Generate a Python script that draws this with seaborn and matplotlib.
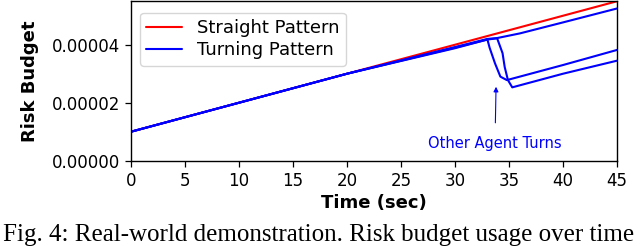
import numpy as np
import pandas as pd
import matplotlib
matplotlib.use("Agg")
import matplotlib.pyplot as plt
import seaborn as sns
from matplotlib.ticker import FormatStrFormatter

# ---------- data ----------
STRAIGHT_T = [0, 10, 20, 30, 40, 45]
STRAIGHT_R = [1.0e-5, 2.0e-5, 3.0e-5, 4.0e-5, 5.0e-5, 5.5e-5]

# three turning-pattern runs
TURN_A_T = [0, 10, 20, 25, 30, 33.0, 33.2, 33.7, 34.2, 34.8, 40, 45]
TURN_A_R = [1.0e-5, 2.0e-5, 3.0e-5, 3.45e-5, 3.9e-5, 4.18e-5, 3.9e-5, 3.36e-5, 2.9e-5, 2.78e-5, 3.3e-5, 3.82e-5]

TURN_B_T = [0, 10, 20, 25, 30, 33.0, 33.9, 34.4, 34.6, 34.9, 35.3, 40, 45]
TURN_B_R = [1.0e-5, 2.0e-5, 3.0e-5, 3.44e-5, 3.88e-5, 4.18e-5, 4.22e-5, 3.71e-5, 3.23e-5, 2.78e-5, 2.53e-5, 3.0e-5, 3.45e-5]

TURN_C_T = [0, 10, 20, 25, 30, 33.0, 33.9, 36, 40, 45]
TURN_C_R = [1.0e-5, 2.0e-5, 3.0e-5, 3.46e-5, 3.92e-5, 4.2e-5, 4.23e-5, 4.39e-5, 4.77e-5, 5.25e-5]

LABELS = ["Straight Pattern", "Turning Pattern"]
X_TICKS = [0, 5, 10, 15, 20, 25, 30, 35, 40, 45]
Y_TICKS = [0, 2e-5, 4e-5]
CAPTION = "Fig. 4: Real-world demonstration. Risk budget usage over time"
# ----------------------------------------------

rows = []
for t, r in zip(STRAIGHT_T, STRAIGHT_R):
    rows.append((LABELS[0], "s", t, r))
for run, (ts, rs) in {"a": (TURN_A_T, TURN_A_R), "b": (TURN_B_T, TURN_B_R),
                      "c": (TURN_C_T, TURN_C_R)}.items():
    for t, r in zip(ts, rs):
        rows.append((LABELS[1], run, t, r))
df = pd.DataFrame(rows, columns=["pattern", "run", "t", "risk"])

sns.set_style("ticks")
plt.rcParams["font.family"] = ["DejaVu Sans"]

fig = plt.figure(figsize=(6.4, 2.46), dpi=100)
ax = fig.add_axes([0.2047, 0.3467, 0.7594, 0.6483])

sns.lineplot(data=df, x="t", y="risk", hue="pattern", units="run", estimator=None,
             palette={LABELS[0]: "red", LABELS[1]: "blue"}, linewidth=1.5,
             sort=False, ax=ax)

ax.set_xlim(0, 45)
ax.set_ylim(0, 5.5e-5)
ax.set_xticks(X_TICKS)
ax.set_yticks(Y_TICKS)
ax.yaxis.set_major_formatter(FormatStrFormatter("%.5f"))
ax.tick_params(labelsize=12, length=4.5, width=0.9, colors="black")
for sp in ax.spines.values():
    sp.set_visible(True)
    sp.set_color("black")
    sp.set_linewidth(1.0)

ax.set_xlabel("Time (sec)", fontsize=13, fontweight="bold", labelpad=3, color="black")
ax.set_ylabel("Risk Budget", fontsize=13, fontweight="bold", labelpad=9, color="black")

handles, labs = ax.get_legend_handles_labels()
leg = ax.legend(handles, labs, loc="upper left", fontsize=13, frameon=True,
                handlelength=2.0, borderpad=0.35, labelspacing=0.25,
                bbox_to_anchor=(0.0, 0.985))
for txt in leg.get_texts():
    txt.set_color("black")

ax.annotate("Other Agent Turns", xy=(33.8, 2.55e-5), xytext=(33.7, 0.6e-5),
            color="blue", fontsize=10.5, ha="center", va="center",
            arrowprops=dict(arrowstyle="-|>", color="blue", lw=0.8,
                            mutation_scale=7, shrinkA=7, shrinkB=0))

fig.text(0.004, 0.022, CAPTION, fontsize=18, family=["Liberation Serif"],
         ha="left", va="baseline", color="black")

fig.savefig("out.png", dpi=100)
